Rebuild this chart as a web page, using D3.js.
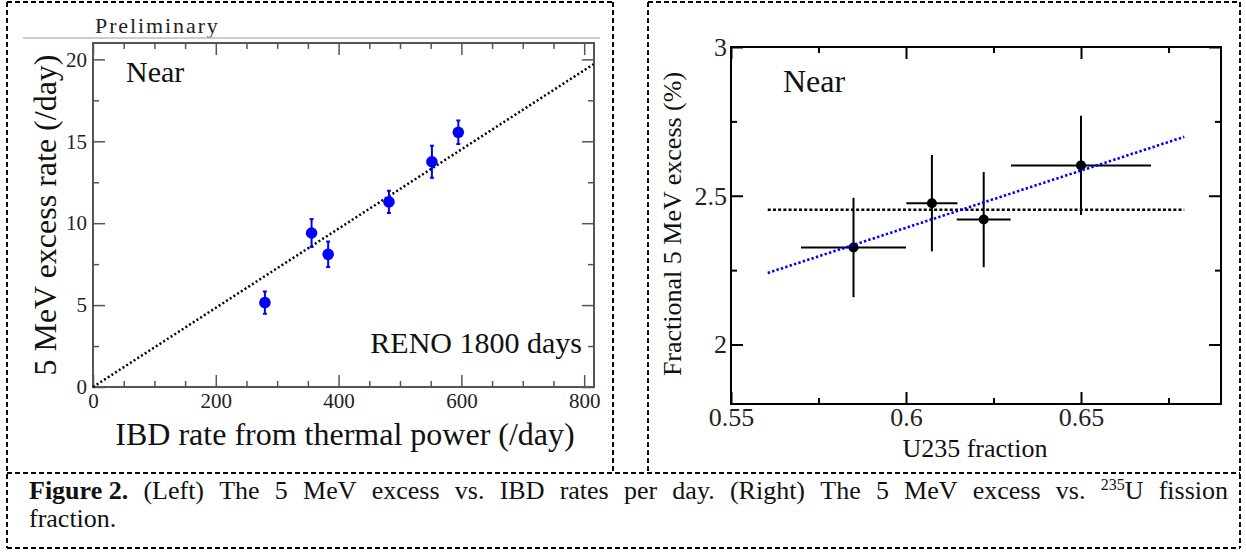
<!DOCTYPE html>
<html><head><meta charset="utf-8">
<script src="https://cdn.jsdelivr.net/npm/d3@7"></script>
<style>
html,body{margin:0;padding:0;background:#fff;}
svg{display:block;font-family:"Liberation Serif","Times New Roman",serif;}
</style></head>
<body>
<svg id="fig" width="1246" height="554"></svg>
<script>
// ---------- data: left panel ----------
const leftX   = [280, 356, 383, 482, 552, 595];
const leftY   = [5.15, 9.4, 8.1, 11.3, 13.75, 15.55];
const leftErr = [0.68, 0.85, 0.78, 0.68, 0.98, 0.72];
const leftFitX = [0, 815];
const leftFitY = [0, 19.7];
const leftXTicks = [0, 200, 400, 600, 800];
const leftXMinor = [50, 100, 150, 250, 300, 350, 450, 500, 550, 650, 700, 750];
const leftYTicks = [0, 5, 10, 15, 20];
const leftYMinor = [2.5, 7.5, 12.5, 17.5];

// ---------- data: right panel ----------
const rightX    = [0.585, 0.6074, 0.6222, 0.65];
const rightY    = [2.326, 2.475, 2.42, 2.602];
const rightXErr = [0.015, 0.0073, 0.0077, 0.02];
const rightYErr = [0.167, 0.162, 0.16, 0.167];
const flatX  = [0.5605, 0.6795];
const flatY  = [2.453, 2.453];
const slopeX = [0.5605, 0.6795];
const slopeY = [2.2405, 2.698];
const rightXTicks = [0.55, 0.6, 0.65];
const rightXLabels = ["0.55", "0.6", "0.65"];
const rightXMinor = [0.575, 0.625, 0.675];
const rightYTicks = [2, 2.5, 3];
const rightYLabels = ["2", "2.5", "3"];
const rightYMinor = [2.25, 2.75];

const svg = d3.select("#fig");
svg.append("rect").attr("width",1246).attr("height",554).attr("fill","#fff");

// ---------- dashed boxes ----------
const dash = "5,3";
function dline(x1,y1,x2,y2){
  svg.append("line").attr("x1",x1).attr("y1",y1).attr("x2",x2).attr("y2",y2)
    .attr("stroke","#000").attr("stroke-width",2).attr("stroke-dasharray",dash);
}
dline(7,2,613,2); dline(7,2,7,548); dline(613,2,613,473);
dline(648,2,1240,2); dline(648,2,648,473); dline(1240,2,1240,548);
dline(7,473,1240,473); dline(7,548,1240,548);

// generic axis helper
function frameAxes(g, x, y, opt){
  const W = x.range()[1]-x.range()[0], H = y.range()[0]-y.range()[1];
  const x0 = x.range()[0], y0 = y.range()[1];
  const col = opt.frameColor;
  const mk = (axisFn, scale, vals, size, tx, ty, labels, fmt) => {
    const a = axisFn(scale).tickValues(vals).tickSize(-size).tickPadding(opt.pad);
    if (!labels) a.tickFormat("");
    else if (fmt) a.tickFormat(fmt);
    const gg = g.append("g").attr("transform",`translate(${tx},${ty})`).call(a);
    gg.select(".domain").remove();
    gg.selectAll(".tick line").attr("stroke",col).attr("stroke-width",opt.tickW);
    gg.selectAll(".tick text").attr("fill","#222").style("font-size",opt.tickFont+"px")
      .style("font-family","'Liberation Serif',serif");
    return gg;
  };
  mk(d3.axisBottom, x, opt.xMajor, 12, 0, y.range()[0], true, opt.xFmt);
  mk(d3.axisBottom, x, opt.xMinor, 6, 0, y.range()[0], false);
  mk(d3.axisTop, x, opt.xMajor, 12, 0, y0, false);
  mk(d3.axisTop, x, opt.xMinor, 6, 0, y0, false);
  mk(d3.axisLeft, y, opt.yMajor, 12, x0, 0, true, opt.yFmt);
  mk(d3.axisLeft, y, opt.yMinor, 6, x0, 0, false);
  mk(d3.axisRight, y, opt.yMajor, 12, x.range()[1], 0, false);
  mk(d3.axisRight, y, opt.yMinor, 6, x.range()[1], 0, false);
  g.append("rect").attr("x",x0).attr("y",y0).attr("width",W).attr("height",H)
    .attr("fill","none").attr("stroke",col).attr("stroke-width",opt.frameW);
}

// ================= LEFT PANEL =================
const gl = svg.append("g");
svg.append("text").attr("x",95).attr("y",33).text("Preliminary")
  .style("font-size","22px").style("letter-spacing","1.9px").attr("fill","#222");
svg.append("line").attr("x1",23).attr("x2",600).attr("y1",38).attr("y2",38)
  .attr("stroke","#bbb").attr("stroke-width",1.5);

const xL = d3.scaleLinear().domain([0,816]).range([93,594]);
const yL = d3.scaleLinear().domain([0,21]).range([387,43]);

frameAxes(gl, xL, yL, {frameColor:"#555", frameW:2, tickW:1.5, pad:6, tickFont:21,
  xMajor:leftXTicks, xMinor:leftXMinor, yMajor:leftYTicks, yMinor:leftYMinor});

// fit line
gl.append("path").datum(leftFitX.map((d,i)=>[d,leftFitY[i]]))
  .attr("d", d3.line().x(d=>xL(d[0])).y(d=>yL(d[1])))
  .attr("fill","none").attr("stroke","#000").attr("stroke-width",2.5)
  .attr("stroke-dasharray","2,2.4");

// error bars + points
const lp = leftX.map((d,i)=>({x:d,y:leftY[i],e:leftErr[i]}));
const blue = "#0000ff";
gl.selectAll(".lerr").data(lp).enter().append("line")
  .attr("x1",d=>xL(d.x)).attr("x2",d=>xL(d.x))
  .attr("y1",d=>yL(d.y-d.e)).attr("y2",d=>yL(d.y+d.e))
  .attr("stroke",blue).attr("stroke-width",2);
["lo","hi"].forEach(k=>{
  gl.selectAll(".cap"+k).data(lp).enter().append("line")
    .attr("x1",d=>xL(d.x)-2).attr("x2",d=>xL(d.x)+2)
    .attr("y1",d=>yL(k==="lo"?d.y-d.e:d.y+d.e)).attr("y2",d=>yL(k==="lo"?d.y-d.e:d.y+d.e))
    .attr("stroke",blue).attr("stroke-width",2);
});
gl.selectAll(".lpt").data(lp).enter().append("circle")
  .attr("cx",d=>xL(d.x)).attr("cy",d=>yL(d.y)).attr("r",5.8).attr("fill",blue);

gl.append("text").attr("x",126).attr("y",82).text("Near").style("font-size","30px").attr("fill","#111");
gl.append("text").attr("x",582).attr("y",353).attr("text-anchor","end")
  .text("RENO 1800 days").style("font-size","30px").attr("fill","#111");
gl.append("text").attr("transform","translate(56,215) rotate(-90)").attr("text-anchor","middle")
  .text("5 MeV excess rate (/day)").style("font-size","32px").attr("fill","#111");
gl.append("text").attr("x",345).attr("y",445).attr("text-anchor","middle")
  .text("IBD rate from thermal power (/day)").style("font-size","32px").attr("fill","#111");

// ================= RIGHT PANEL =================
const gr = svg.append("g");
const xR = d3.scaleLinear().domain([0.55,0.69]).range([731,1221]);
const yR = d3.scaleLinear().domain([1.8,3.0]).range([404,47]);

frameAxes(gr, xR, yR, {frameColor:"#000", frameW:2, tickW:2, pad:4, tickFont:26,
  xMajor:rightXTicks, xMinor:rightXMinor, yMajor:rightYTicks, yMinor:rightYMinor,
  xFmt:(d,i)=>rightXLabels[i], yFmt:(d,i)=>rightYLabels[i]});

gr.append("path").datum(flatX.map((d,i)=>[d,flatY[i]]))
  .attr("d", d3.line().x(d=>xR(d[0])).y(d=>yR(d[1])))
  .attr("fill","none").attr("stroke","#000").attr("stroke-width",2.4)
  .attr("stroke-dasharray","3,2.2");

const rp = rightX.map((d,i)=>({x:d,y:rightY[i],ex:rightXErr[i],ey:rightYErr[i]}));
gr.selectAll(".rex").data(rp).enter().append("line")
  .attr("x1",d=>xR(d.x-d.ex)).attr("x2",d=>xR(d.x+d.ex))
  .attr("y1",d=>yR(d.y)).attr("y2",d=>yR(d.y))
  .attr("stroke","#000").attr("stroke-width",2);
gr.selectAll(".rey").data(rp).enter().append("line")
  .attr("x1",d=>xR(d.x)).attr("x2",d=>xR(d.x))
  .attr("y1",d=>yR(d.y-d.ey)).attr("y2",d=>yR(d.y+d.ey))
  .attr("stroke","#000").attr("stroke-width",2);
gr.selectAll(".rpt").data(rp).enter().append("circle")
  .attr("cx",d=>xR(d.x)).attr("cy",d=>yR(d.y)).attr("r",5).attr("fill","#000");

gr.append("path").datum(slopeX.map((d,i)=>[d,slopeY[i]]))
  .attr("d", d3.line().x(d=>xR(d[0])).y(d=>yR(d[1])))
  .attr("fill","none").attr("stroke",blue).attr("stroke-width",2.6)
  .attr("stroke-dasharray","2.4,2.2");

gr.append("text").attr("x",783).attr("y",92).text("Near").style("font-size","32px").attr("fill","#111");
gr.append("text").attr("transform","translate(681,224) rotate(-90)").attr("text-anchor","middle")
  .text("Fractional 5 MeV excess (%)").style("font-size","26px").attr("fill","#111");
gr.append("text").attr("x",975).attr("y",457).attr("text-anchor","middle")
  .text("U235 fraction").style("font-size","26px").attr("fill","#111");

// ================= CAPTION =================
const capWords = ["(Left)","The","5","MeV","excess","vs.","IBD","rates","per","day.","(Right)","The","5","MeV","excess","vs.","235U","fission"];
const capLine2 = "fraction.";
const capFont = 26, capX0 = 29, capX1 = 1228, capY1 = 499, capY2 = 527;
const cg = svg.append("g").style("font-size",capFont+"px")
  .style("font-family","'Liberation Serif','Times New Roman',serif").attr("fill","#111");
const items = [];
const bold = cg.append("text").attr("y",capY1).style("font-weight","bold").text("Figure 2.");
items.push(bold);
capWords.forEach(w=>{
  const t = cg.append("text").attr("y",capY1);
  if (w === "235U") {
    t.append("tspan").text("235").style("font-size","16px").attr("dy",-9);
    t.append("tspan").text("U").attr("dy",9);
  } else t.text(w);
  items.push(t);
});
const widths = items.map(t=>t.node().getComputedTextLength());
const total = d3.sum(widths);
const gap = (capX1-capX0-total)/(items.length-1);
let cx = capX0;
items.forEach((t,i)=>{ t.attr("x",cx); cx += widths[i]+gap; });
cg.append("text").attr("x",capX0).attr("y",capY2).text(capLine2);
</script>
</body></html>
